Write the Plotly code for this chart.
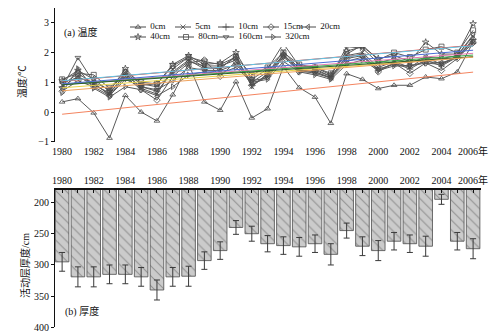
import numpy as np
import plotly.graph_objects as go

# ---- data -------------------------------------------------------------
years = list(range(1980, 2007))

depth_names = ["0cm", "5cm", "10cm", "15cm", "20cm", "40cm", "80cm", "160cm", "320cm"]
depth_symbols = ["triangle-up-open", "x-thin-open", "cross-thin-open", "diamond-open",
                 "triangle-left-open", "star-open", "square-open", "triangle-down-open",
                 "triangle-right-open"]
trend_colors = ["#f4845f", "#e57bb0", "#3aa845", "#e9d44a", "#4a6fd8",
                "#e8473f", "#5ec8e8", "#2f5d2f", "#f0a35e"]

t_0cm = [0.34, 0.45, -0.03, -0.88, 0.56, 0.0, -0.30, 0.58, 1.62, 0.34, 0.06, 1.02, -0.20, 0.11,
         1.52, 0.82, 0.50, -0.38, 1.29, 1.10, 0.79, 0.90, 0.90, 1.18, 1.12, 1.35, 2.35]
t_5cm = [0.90, 1.30, 0.95, 0.60, 1.30, 0.80, 0.60, 1.45, 1.85, 1.50, 1.45, 1.90, 0.85, 1.30,
         2.05, 1.45, 1.35, 1.15, 1.90, 2.00, 1.50, 1.70, 1.50, 1.85, 1.60, 1.90, 2.55]
t_10cm = [0.85, 1.20, 0.90, 0.65, 1.25, 0.85, 0.70, 1.35, 1.75, 1.45, 1.50, 1.85, 0.90, 1.25,
          1.95, 1.40, 1.40, 1.20, 1.85, 1.95, 1.40, 1.65, 1.45, 1.75, 1.55, 1.85, 2.45]
t_15cm = [0.70, 1.05, 0.85, 0.55, 1.20, 0.75, 0.40, 1.20, 1.65, 1.75, 1.20, 1.70, 0.90, 1.20,
          1.90, 1.35, 1.35, 1.15, 1.80, 1.90, 1.35, 1.65, 1.30, 1.65, 1.40, 1.80, 2.35]
t_20cm = [1.00, 1.15, 1.00, 0.75, 1.30, 0.95, 0.85, 1.30, 1.70, 1.55, 1.55, 1.75, 1.00, 1.35,
          1.90, 1.50, 1.45, 1.20, 2.20, 2.15, 1.65, 1.80, 1.65, 1.85, 1.80, 1.90, 2.60]
t_40cm = [1.05, 1.40, 1.10, 0.70, 1.46, 0.90, 0.95, 1.60, 1.90, 1.60, 1.65, 2.00, 1.10, 1.45,
          2.30, 1.55, 1.50, 1.25, 2.05, 2.20, 1.80, 1.90, 1.70, 2.35, 1.95, 1.95, 2.97]
t_80cm = [1.10, 1.30, 1.25, 0.80, 1.35, 1.00, 0.95, 1.55, 1.85, 1.70, 1.60, 1.85, 1.25, 1.50,
          2.00, 1.60, 1.50, 1.30, 1.95, 2.25, 1.75, 2.00, 1.85, 2.10, 2.20, 2.00, 2.75]
t_160cm = [0.80, 1.83, 1.00, 0.55, 1.10, 0.85, 0.75, 1.05, 1.50, 1.40, 1.40, 1.60, 1.05, 1.15,
           1.85, 1.40, 1.30, 1.15, 1.70, 1.85, 1.45, 1.60, 1.55, 1.70, 1.65, 1.85, 2.40]
t_320cm = [0.65, 1.46, 0.80, 0.50, 0.85, 0.75, 0.55, 0.85, 1.25, 1.35, 1.30, 1.50, 1.00, 1.10,
           1.70, 1.35, 1.25, 1.10, 1.60, 1.75, 1.40, 1.55, 1.55, 1.65, 1.60, 1.85, 2.30]
temps = [t_0cm, t_5cm, t_10cm, t_15cm, t_20cm, t_40cm, t_80cm, t_160cm, t_320cm]

thickness = [295, 319, 319, 315, 315, 319, 340, 319, 318, 293, 277, 240, 250, 266,
             269, 271, 266, 283, 245, 270, 277, 262, 266, 270, 195, 262, 274]
thickness_err = [15, 16, 16, 15, 15, 15, 16, 15, 16, 14, 14, 11, 12, 13,
                 14, 15, 14, 17, 12, 15, 16, 14, 14, 16, 8, 14, 16]

top_ticks = list(range(1980, 2007, 2))
top_ticktext = [str(y) for y in top_ticks[:-1]] + ["2006年"]
bottom_ticktext = [("2006年" if y == 2006 else str(y)) if y % 2 == 0 else "" for y in years]

# key layout: (row, left offset in px of the key strip) for each depth
key_rows = [0, 0, 0, 0, 0, 1, 1, 1, 1]
key_left = [0, 45, 88, 133, 170, 0, 48, 88, 135]

FONT = "Liberation Serif, Noto Sans CJK SC, serif"
LINE_GREY = "#5a5a5a"
MARK_GREY = "#4a4a4a"

fig = go.Figure()

# ---- (a) soil temperature series ---------------------------------------
for name, sym, vals in zip(depth_names, depth_symbols, temps):
    fig.add_trace(go.Scatter(
        x=years, y=vals, name=name, mode="lines+markers",
        line=dict(color=LINE_GREY, width=1),
        marker=dict(symbol=sym, size=5, color=MARK_GREY, line=dict(width=0.8, color=MARK_GREY)),
        xaxis="x", yaxis="y", showlegend=False,
    ))

# linear trends of each depth
yr = np.array(years, dtype=float)
for name, col, vals in zip(depth_names, trend_colors, temps):
    k, b = np.polyfit(yr, np.array(vals), 1)
    fig.add_trace(go.Scatter(
        x=[yr[0], yr[-1]], y=[k * yr[0] + b, k * yr[-1] + b], mode="lines",
        line=dict(color=col, width=1), showlegend=False, hoverinfo="skip",
        xaxis="x", yaxis="y",
    ))

# key: short line with symbol, then the depth label
for name, sym, row, left in zip(depth_names, depth_symbols, key_rows, key_left):
    fig.add_trace(go.Scatter(
        x=[left, left + 8, left + 16], y=[row, row, row],
        mode="lines+markers+text", text=["", "", name], textposition="middle right",
        textfont=dict(family=FONT, size=9, color="#111"),
        line=dict(color=MARK_GREY, width=1),
        marker=dict(symbol=sym, size=5, color=MARK_GREY, opacity=[0, 1, 0],
                    line=dict(width=0.8, color=MARK_GREY)),
        xaxis="x3", yaxis="y3", showlegend=False, hoverinfo="skip", cliponaxis=False,
    ))

# ---- (b) active layer thickness ----------------------------------------
fig.add_trace(go.Bar(
    x=years, y=thickness, width=0.86, showlegend=False,
    marker=dict(color="#cbcbcb", line=dict(color="#4a4a4a", width=0.8),
                pattern=dict(shape="\\", fgcolor="#555555", size=7, solidity=0.15)),
    error_y=dict(type="data", array=thickness_err, color="#3a3a3a", thickness=1, width=3),
    xaxis="x2", yaxis="y2",
))

axis_font = dict(family=FONT, size=10, color="#111")
hidden = dict(visible=False, showgrid=False, zeroline=False, fixedrange=True)
note_font = dict(family=FONT, size=10, color="#111")

fig.update_layout(
    width=500, height=335,
    margin=dict(l=0, r=0, t=0, b=0, autoexpand=False),
    paper_bgcolor="white", plot_bgcolor="white",
    font=dict(family=FONT, color="#111"),
    showlegend=False,
    xaxis=dict(domain=[0.11, 0.962], range=[1979.55, 2006.5], anchor="y",
               tickvals=top_ticks, ticktext=top_ticktext, showline=False, ticks="",
               showgrid=False, zeroline=False, tickfont=axis_font, ticklabelstandoff=2),
    yaxis=dict(domain=[0.577, 0.976], range=[-1, 3.5], anchor="x",
               tickvals=[-1, 0, 1, 2, 3], showline=True, linecolor="#111", linewidth=1,
               ticks="outside", ticklen=3, tickcolor="#111", showgrid=False, zeroline=False,
               tickfont=axis_font),
    xaxis2=dict(domain=[0.11, 0.962], range=[1979.55, 2006.5], anchor="y2", side="top",
                tickvals=years, ticktext=bottom_ticktext, showline=True, linecolor="#111",
                linewidth=1.5, ticks="inside", ticklen=3, tickcolor="#111",
                showgrid=False, zeroline=False, tickfont=axis_font),
    yaxis2=dict(domain=[0.0224, 0.433], range=[400, 180], anchor="x2",
                tickvals=[200, 250, 300, 350, 400], showline=True, linecolor="#111",
                linewidth=1, ticks="outside", ticklen=3, tickcolor="#111",
                showgrid=False, zeroline=False, tickfont=axis_font),
    # key strip: 1 unit = 1 px horizontally, 10 px per row vertically
    xaxis3=dict(domain=[0.26, 0.74], range=[0, 240], anchor="y3", **hidden),
    yaxis3=dict(domain=[1 - 47 / 335, 1 - 17 / 335], range=[2, -1], anchor="x3", **hidden),
    annotations=[
        dict(text="温度/℃", x=0.044, y=0.755, xref="paper", yref="paper", textangle=-90,
             xanchor="center", yanchor="middle", showarrow=False, font=note_font),
        dict(text="(a) 温度", x=0.124, y=0.904, xref="paper", yref="paper",
             xanchor="left", yanchor="middle", showarrow=False, font=note_font),
        dict(text="活动层厚度/cm", x=0.05, y=0.206, xref="paper", yref="paper", textangle=-90,
             xanchor="center", yanchor="middle", showarrow=False, font=note_font),
        dict(text="(b) 厚度", x=0.126, y=0.069, xref="paper", yref="paper",
             xanchor="left", yanchor="middle", showarrow=False, font=note_font),
    ],
)

fig.write_html("out.html")
